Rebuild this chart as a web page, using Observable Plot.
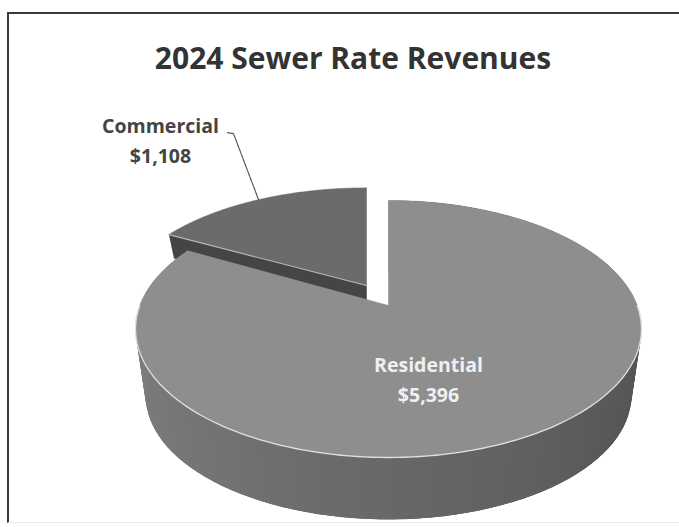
<!DOCTYPE html>
<html><head><meta charset="utf-8">
<script src="https://cdn.jsdelivr.net/npm/d3@7"></script>
<script src="https://cdn.jsdelivr.net/npm/@observablehq/plot@0.6"></script>
<style>
html,body{margin:0;padding:0;background:#fff}
#wrap{position:relative;width:679px;height:527px;overflow:hidden}
#frame{position:absolute;left:7px;top:12px;right:-5px;bottom:4px;border:2px solid #3a3a3a;border-bottom:1px solid #ececec;border-right:none}
#chart{position:absolute;left:0;top:0}
#chart svg{background:transparent}
</style></head><body>
<div id="wrap"><div id="frame"></div><div id="chart"></div></div>
<script>
const title = "2024 Sewer Rate Revenues";
const categories = ["Commercial", "Residential"];
const revenues = [1108, 5396];
const revenueLabels = ["$1,108", "$5,396"];

const total = d3.sum(revenues);
const commercialAngle = 2 * Math.PI * revenues[0] / total;
const k = 0.183; // perspective of the tilted disc

// point on a disc, seen in perspective (normalised to the scale domains)
function disc(theta, radius, o) {
  const u = Math.sin(theta) * radius, v = Math.cos(theta) * radius;
  const w = 1 + k * v;
  return {x: o.cx + o.sx * u / w, y: o.cy + o.sy * v / w};
}
const resTop = {cx: 0, cy: 0, sx: 1, sy: 1};
const resBot = {cx: 0, cy: -0.548, sx: 0.96, sy: 0.96};
const comTop = {cx: -0.0885, cy: 0.161, sx: 0.985, sy: 0.93};
const comBot = {cx: -0.0885, cy: -0.02, sx: 0.96, sy: 0.91};

const STEPS = 120;
function arc(a0, a1, o) {
  return d3.range(STEPS + 1).map(i => disc(a0 + (a1 - a0) * i / STEPS, 1, o));
}
const resStart = 0, resEnd = 2 * Math.PI - commercialAngle;
const comStart = -commercialAngle, comEnd = 0;

const sector = (a0, a1, o) => [{x: o.cx, y: o.cy}, ...arc(a0, a1, o), {x: o.cx, y: o.cy}];

const shade = d3.scaleLinear().domain([-1, -0.3, 0.5, 1]).range(["#7c7c7c", "#6d6d6d", "#606060", "#545454"]);

// outer wall of the big slice: small overlapping quads, shaded by direction
const wall = [];
const stepAngle = (resEnd - resStart) / STEPS;
for (let i = 0; i < STEPS; i++) {
  const t0 = resStart + stepAngle * i, t1 = Math.min(resEnd, t0 + stepAngle * 3);
  const color = d3.color(shade(Math.sin(t0))).formatHex();
  [disc(t0, 1, resTop), disc(t1, 1, resTop), disc(t1, 1, resBot), disc(t0, 1, resBot)]
    .forEach(p => wall.push({...p, seg: i, color}));
}
// cut face of the small slice
const comEdge = [disc(comStart, 1, comTop), {x: comTop.cx, y: comTop.cy}, {x: comBot.cx, y: comBot.cy}, disc(comStart, 1, comBot)];

const resTopPts = sector(resStart, resEnd, resTop);
const comTopPts = sector(comStart, comEnd, comTop);
const rimPts = arc(Math.PI * 0.5, Math.PI * 1.5, resTop);
const comRim = [disc(comStart, 1, comTop), {x: comTop.cx, y: comTop.cy}];

const mid = disc(-commercialAngle / 2, 1, comTop);
const x0 = 388, ax = 248.7, y0 = 305, ay = 124.2;
const xScale = {domain: [-1, 1], range: [x0 - ax, x0 + ax]};
const yScale = {domain: [-1, 1], range: [y0 + ay, y0 - ay]};
const leader = [[0, 0], [-25 / ax, 66 / ay], [-31 / ax, 67 / ay]].map(([a, b]) => ({x: mid.x + a, y: mid.y + b}));

const font = "'Open Sans', 'Noto Sans', sans-serif";
const lineOpts = {x: "x", y: "y"};

const plot = Plot.plot({
  width: 679, height: 527, margin: 0,
  x: {...xScale, axis: null}, y: {...yScale, axis: null},
  style: {background: "transparent"},
  marks: [
    Plot.line(comEdge, {...lineOpts, fill: "#454545", stroke: "#454545", strokeWidth: 0.5}),
    Plot.line(comTopPts, {...lineOpts, fill: "#6b6b6b", stroke: "#6b6b6b", strokeWidth: 0.5}),
    Plot.line(comRim, {...lineOpts, stroke: "#b5b5b5", strokeWidth: 1.2}),
    Plot.line(wall, {...lineOpts, z: "seg", fill: "color", stroke: "none"}),
    Plot.line(resTopPts, {...lineOpts, fill: "#8e8e8e", stroke: "#8e8e8e", strokeWidth: 0.5}),
    Plot.line(rimPts, {...lineOpts, stroke: "#e0e0e0", strokeWidth: 1.3}),
    Plot.line(leader, {...lineOpts, stroke: "#555", strokeWidth: 1.2, strokeDasharray: "4,1"}),
    Plot.text([title], {frameAnchor: "top", dx: 13, dy: 47, fontFamily: font, fontWeight: 700, fontSize: 30, fill: "#333", lineAnchor: "top"}),
    Plot.text([`${categories[0]}\n${revenueLabels[0]}`], {frameAnchor: "top-left", dx: 160, dy: 112, fontFamily: font, fontWeight: 700, fontSize: 19.5, lineHeight: 1.5, fill: "#444", lineAnchor: "top", textAnchor: "middle"}),
    Plot.text([`${categories[1]}\n${revenueLabels[1]}`], {frameAnchor: "top-left", dx: 428, dy: 351, fontFamily: font, fontWeight: 700, fontSize: 19.5, lineHeight: 1.5, fill: "#f0f0f0", lineAnchor: "top", textAnchor: "middle"})
  ]
});
document.getElementById("chart").appendChild(plot);
</script>
</body></html>
